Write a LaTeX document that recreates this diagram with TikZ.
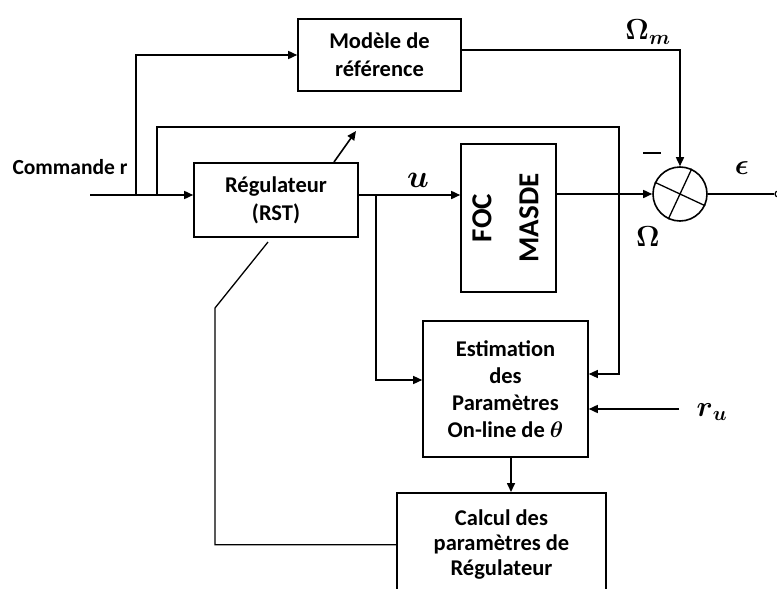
\RequirePackage{fix-cm}
\documentclass[tikz,border=0pt]{standalone}
\usepackage{amsmath,amssymb}
\usepackage{fontspec}
\setmainfont{Carlito}
\usetikzlibrary{positioning,arrows.meta,calc}

\begin{document}
\begin{tikzpicture}[x=1pt,y=-1pt,
  bloc/.style={draw,line width=1.6pt,align=center,inner sep=0pt,
    font=\fontsize{22.5}{28}\selectfont\bfseries},
  fleche/.style={line width=1.6pt,-{Triangle[length=9pt,width=8pt]}},
  trait/.style={line width=1.6pt},
  fin/.style={line width=1.3pt},
  etiq/.style={font=\fontsize{21.5}{24}\selectfont\bfseries},
  symb/.style={font=\fontsize{29}{32}\selectfont}]
\useasboundingbox (0,0) rectangle (777,589);

\node[bloc,minimum width=163pt,minimum height=72pt] (modele) at (379.5,55) {Modèle de\\référence};
\node[bloc,minimum width=164pt,minimum height=74pt] (reg) at (276,200) {Régulateur\\(RST)};
\node[bloc,minimum width=95pt,minimum height=148pt,
  font=\fontsize{29}{32}\selectfont\bfseries] (foc) at (508.5,218)
  {\rotatebox{90}{\begin{tabular}{c}FOC\\[15pt]MASDE\end{tabular}}};
\node[draw,circle,line width=1.6pt,minimum size=54pt,inner sep=0pt] (sum) at (680,194) {};
\node[bloc,minimum width=165pt,minimum height=136pt,
  font=\fontsize{22.5}{27}\selectfont\bfseries] (estim) at (505.5,389)
  {Estimation\\des\\Paramètres\\On-line de $\boldsymbol{\theta}$};
\node[bloc,anchor=north,minimum width=209pt,minimum height=104pt,
  font=\fontsize{22.5}{25}\selectfont\bfseries] (calcul) at (501.5,492)
  {Calcul des\\paramètres de\\Régulateur};
\node[draw,circle,line width=1.2pt,minimum size=6pt,inner sep=0pt] (sortie) at (778,194) {};

\draw[fin] (sum.155) -- (sum.-25) (sum.65) -- (sum.245);

\coordinate (in) at (90,195);
\coordinate (j1) at (136,195);
\coordinate (j2) at (157,195);
\coordinate (k2) at (619,127);
\coordinate (j3) at (376,195);
\coordinate (k1) at (680,50);
\coordinate (ru) at (679,409);
\coordinate (c1) at (215,308);
\coordinate (c2) at (268,242);
\coordinate (a1) at (334,162);
\coordinate (a2) at (356,131);
\coordinate (e1) at ($(estim.south)+(5.5,0)$);

\draw[fleche] (in) -- (in -| reg.west);
\draw[fleche] (j1) |- (modele.west);
\draw[fleche,line width=1.3pt] (j2) |- (k2) |- ($(estim.east)+(0,-15)$);
\draw[fleche] (reg.east |- in) -- (foc.west |- in);
\draw[fleche,line width=1.4pt] (j3) |- ($(estim.west)+(0,-9)$);
\draw[fleche] (foc.east |- sum) -- (sum.west);
\draw[fleche] (modele.east |- k1) -| (sum.north);
\draw[trait] (sum.east) -- (sortie.west);
\draw[fleche] (e1) -- (e1 |- calcul.north);
\draw[fleche] (ru) -- (ru -| estim.east);
\draw[fin] (calcul.west) -| (c1) -- (c2);
\draw[fleche] (a1) -- (a2);

\node[etiq] (cmd) at (70,167) {Commande r};
\node[symb,font=\fontsize{32}{34}\selectfont] (u) at (418,180) {$\boldsymbol{u}$};
\node[symb] (om) at (648,32) {$\boldsymbol{\Omega}_{\boldsymbol{m}}$};
\node[symb] (o) at (648,237) {$\boldsymbol{\Omega}$};
\node[symb] (eps) at (742,168) {$\boldsymbol{\epsilon}$};
\node[symb] (rul) at (712,412) {$\boldsymbol{r}_{\boldsymbol{u}}$};
\node (moins) at (652,153) {\rule{18pt}{1.6pt}};
\end{tikzpicture}
\end{document}
